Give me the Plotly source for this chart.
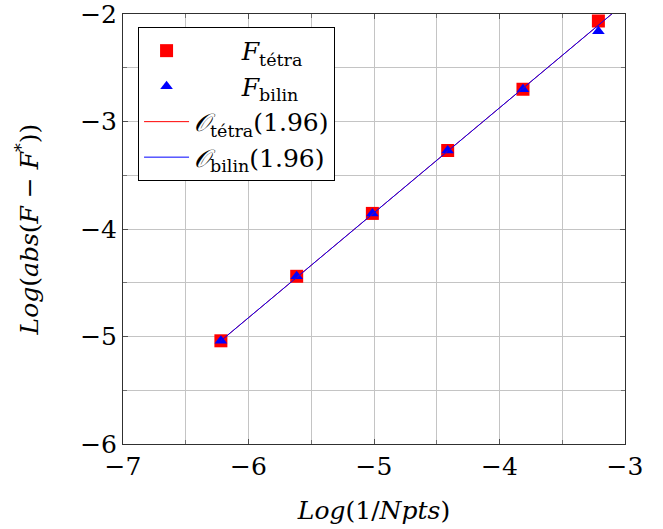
import plotly.graph_objects as go

# Data
x_pts = [-6.22, -5.616, -5.013, -4.413, -3.813, -3.212]
y_tetra = [-5.04, -4.44, -3.855, -3.27, -2.70, -2.065]
y_bilin = [-5.04, -4.44, -3.855, -3.27, -2.70, -2.16]
x_fit = [-6.22, -3.0]
y_fit_tetra = [-5.04, -1.897]
y_fit_bilin = [-5.04, -1.897]

FONT = "DejaVu Serif, Liberation Serif, serif"
FS = 25

fig = go.Figure()
fig.add_trace(go.Scatter(x=x_pts, y=y_tetra, mode="markers", name="      <i>F</i><sub>tétra</sub>",
                         marker=dict(symbol="square", size=13, color="red")))
fig.add_trace(go.Scatter(x=x_pts, y=y_bilin, mode="markers", name="      <i>F</i><sub>bilin</sub>",
                         marker=dict(symbol="triangle-up", size=11, color="blue")))
fig.add_trace(go.Scatter(x=x_fit, y=y_fit_tetra, mode="lines", name="<i>𝒪</i><sub>tétra</sub>(1.96)",
                         line=dict(color="red", width=1)))
fig.add_trace(go.Scatter(x=x_fit, y=y_fit_bilin, mode="lines", name="<i>𝒪</i><sub>bilin</sub>(1.96)",
                         line=dict(color="blue", width=1)))

axis_common = dict(
    showgrid=True, gridcolor="#c4c4c4", gridwidth=1,
    showline=True, linecolor="#303030", linewidth=1, mirror="allticks",
    ticks="inside", ticklen=5, tickcolor="#505050",
    zeroline=False, dtick=1, ticklabeloverflow="allow", automargin=False,
    minor=dict(dtick=0.5, showgrid=True, gridcolor="#c4c4c4", ticks="inside", ticklen=4, tickcolor="#707070"),
    tickfont=dict(family=FONT, size=FS, color="black"),
)

fig.update_xaxes(range=[-7, -3], tick0=-7,
                 title=dict(text="<i>Log</i>(1/<i>Npts</i>)", font=dict(family=FONT, size=FS, color="black"), standoff=21),
                 **axis_common)
fig.update_yaxes(range=[-6, -2], tick0=-6,
                 title=dict(text="<i>Log</i>(<i>abs</i>(<i>F</i> − <i>F</i><sup>*</sup>))", font=dict(family=FONT, size=FS, color="black"), standoff=34),
                 **axis_common)

fig.update_layout(
    width=663, height=529,
    margin=dict(l=123, r=38, t=14, b=85),
    plot_bgcolor="white", paper_bgcolor="white",
    font=dict(family=FONT, size=FS, color="black"),
    legend=dict(x=0.03, y=0.97, xanchor="left", yanchor="top",
                bgcolor="white", bordercolor="black", borderwidth=1,
                font=dict(family=FONT, size=FS), tracegroupgap=2, itemwidth=45),
)

fig.write_html("out.html")
